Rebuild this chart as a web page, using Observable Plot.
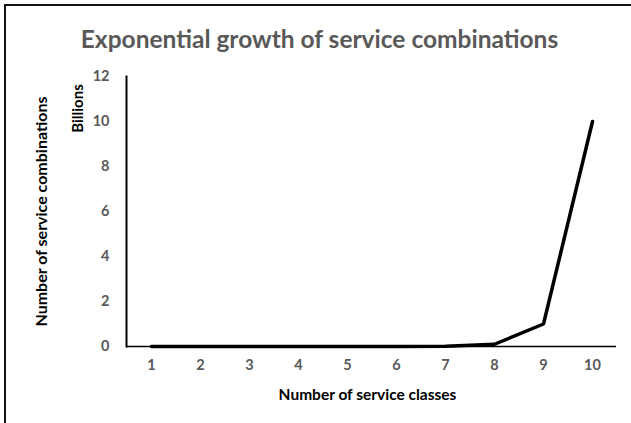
<!DOCTYPE html>
<html>
<head>
<meta charset="utf-8">
<script src="https://cdn.jsdelivr.net/npm/d3@7"></script>
<script src="https://cdn.jsdelivr.net/npm/@observablehq/plot@0.6"></script>
<style>
  html, body { margin: 0; padding: 0; background: #fff; }
  #wrap { position: relative; width: 631px; height: 423px; overflow: hidden; background: #fff; }
  #frame { position: absolute; left: 4px; top: 4px; width: 640px; height: 440px; border-top: 2.5px solid #111; border-left: 2.5px solid #111; }
  #title { position: absolute; left: 4px; top: 0; width: 631px; height: 60px; text-align: center; line-height: 78px;
           font-family: Lato, "Open Sans", sans-serif; font-weight: bold; font-size: 24.5px; color: #595959; }
  #chart { position: absolute; left: 0; top: 60px; }
</style>
</head>
<body>
<div id="wrap">
  <div id="frame"></div>
  <div id="title">Exponential growth of service combinations</div>
  <div id="chart"></div>
</div>
<script>
const serviceClasses = [1, 2, 3, 4, 5, 6, 7, 8, 9, 10];
// number of service combinations, in billions
const combinationsBillions = [0.00000001, 0.0000001, 0.000001, 0.00001, 0.0001, 0.001, 0.01, 0.1, 1, 10];
const yTicks = [0, 2, 4, 6, 8, 10, 12];
const titleText = "Exponential growth of service combinations";
const yUnitLabel = "Billions";
const yTitle = "Number of service combinations";
const xTitle = "Number of service classes";

const data = serviceClasses.map((c, i) => ({classes: c, value: combinationsBillions[i]}));
const font = "Lato, 'Open Sans', sans-serif";

const plot = Plot.plot({
  width: 631,
  height: 363,
  marginLeft: 126,
  marginRight: 15,
  marginTop: 16,
  marginBottom: 77,
  style: {fontFamily: font, background: "transparent", overflow: "visible"},
  x: {type: "point", domain: serviceClasses, padding: 0.5, align: 0.5},
  y: {domain: [0, 12]},
  marks: [
    Plot.axisX({tickSize: 0, tickPadding: 13, fontSize: 14.5, fontWeight: "bold", fill: "#595959", label: null}),
    Plot.axisY({ticks: yTicks, tickSize: 0, tickPadding: 17, fontSize: 14.5, fontWeight: "bold", fill: "#595959", label: null}),
    Plot.frame({anchor: "left", stroke: "#000", strokeWidth: 2}),
    Plot.ruleY([0], {stroke: "#000", strokeWidth: 1.5}),
    Plot.line(data, {x: "classes", y: "value", stroke: "#000", strokeWidth: 3.5, strokeLinejoin: "miter",
      style: {filter: "drop-shadow(1px 2px 1.5px rgba(0,0,0,0.35))"}}),
    Plot.text([yUnitLabel], {frameAnchor: "top-left", textAnchor: "middle", lineAnchor: "middle", dx: -48, dy: 32, rotate: -90, fontSize: 15, fontWeight: "bold", fill: "#000"}),
    Plot.text([yTitle], {frameAnchor: "left", textAnchor: "middle", lineAnchor: "middle", dx: -85, dy: 0, rotate: -90, fontSize: 16, fontWeight: "bold", fill: "#000"}),
    Plot.text([xTitle], {frameAnchor: "bottom", textAnchor: "middle", lineAnchor: "middle", dx: -4, dy: 49, fontSize: 15.5, fontWeight: "bold", fill: "#000"})
  ]
});
document.getElementById("chart").appendChild(plot);
</script>
</body>
</html>
